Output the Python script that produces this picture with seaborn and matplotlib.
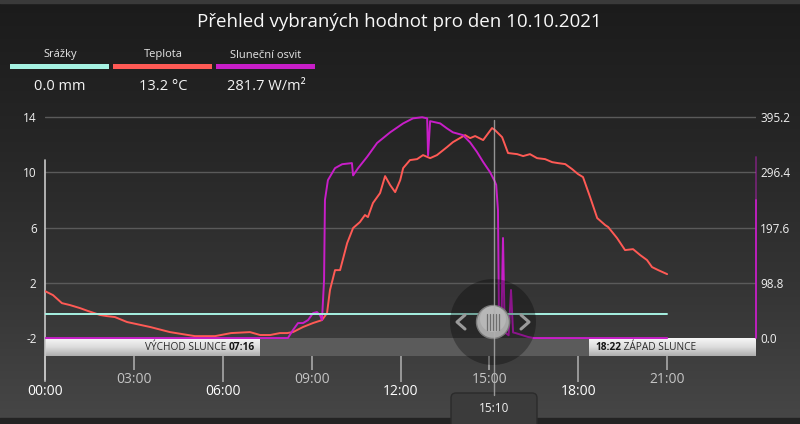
import numpy as np
import pandas as pd
import matplotlib
matplotlib.use("Agg")
import matplotlib.pyplot as plt
import seaborn as sns
from matplotlib.patches import Circle, FancyBboxPatch
from matplotlib.ticker import FixedLocator, FuncFormatter

sns.set_theme(style="dark")
plt.rcParams['font.family'] = ['Open Sans', 'DejaVu Sans']

# --- data (hours of the day) ---
teplota_h = [0.00, 0.27, 0.57, 0.84, 1.18, 1.45, 1.86, 2.09, 2.36, 2.77, 3.55, 4.22, 5.06, 5.74,
             6.28, 6.92, 7.26, 7.60, 7.93, 8.17, 8.37, 8.71, 9.05, 9.35, 9.52, 9.62, 9.79, 9.96,
             10.20, 10.40, 10.63, 10.80, 10.90, 11.07, 11.31, 11.48, 11.65, 11.82, 11.99, 12.09,
             12.32, 12.56, 12.76, 13.00, 13.23, 13.57, 13.77, 14.18, 14.35, 14.52, 14.79, 15.09,
             15.19, 15.43, 15.63, 15.94, 16.14, 16.37, 16.61, 16.88, 17.12, 17.32, 17.56, 17.79,
             17.99, 18.16, 18.40, 18.64, 18.91, 19.01, 19.31, 19.58, 19.85, 20.09, 20.32, 20.49,
             20.70, 21.00]
teplota = [1.40, 1.11, 0.53, 0.39, 0.17, -0.04, -0.33, -0.41, -0.48, -0.84, -1.20, -1.57, -1.86, -1.86,
           -1.64, -1.57, -1.78, -1.78, -1.64, -1.64, -1.57, -1.20, -0.91, -0.70, -0.19, 1.48, 2.92, 2.92,
           4.88, 5.97, 6.40, 6.91, 6.76, 7.78, 8.50, 9.73, 9.08, 8.57, 9.44, 10.31,
           10.89, 10.96, 11.25, 11.03, 11.25, 11.83, 12.19, 12.70, 12.48, 12.63, 12.34, 13.21,
           13.06, 12.55, 11.40, 11.32, 11.18, 11.32, 11.03, 10.96, 10.74, 10.67, 10.60, 10.24,
           9.88, 9.66, 8.21, 6.69, 6.18, 6.04, 5.24, 4.37, 4.44, 4.01, 3.65, 3.14,
           2.92, 2.63]

osvit_h = [0.00, 8.20, 8.37, 8.54, 8.71, 8.88, 9.05, 9.18, 9.28, 9.35, 9.39, 9.42, 9.45, 9.55,
           9.79, 10.03, 10.36, 10.40, 10.57, 10.87, 11.21, 11.65, 12.09, 12.42, 12.73, 12.90,
           12.93, 13.00, 13.34, 13.57, 13.77, 14.11, 14.35, 14.58, 14.79, 15.02, 15.17, 15.23,
           15.29, 15.33, 15.40, 15.46, 15.52, 15.65, 15.73, 15.80, 15.88, 16.30, 16.50, 21.00]
osvit = [0.0, 0.0, 14.3, 26.8, 26.8, 32.2, 44.7, 46.5, 41.1, 32.2, 73.0, 104.0, 247.0, 282.5,
         304.0, 311.0, 313.0, 291.0, 304.0, 324.0, 349.0, 368.0, 384.0, 393.0, 395.0, 393.0,
         327.0, 388.0, 384.0, 375.0, 368.0, 363.0, 350.0, 333.0, 315.0, 297.0, 281.7, 274.0,
         229.0, 5.0, 5.0, 179.0, 10.0, 5.0, 86.0, 10.0, 9.0, 2.0, 0.0, 0.0]

srazky_h = [0.0, 21.0]
srazky = [0.0, 0.0]

nadpis = "Přehled vybraných hodnot pro den 10.10.2021"
legenda_nazvy = ["Srážky", "Teplota", "Sluneční osvit"]
legenda_hodnoty = ["0.0 mm", "13.2 °C", "281.7 W/m²"]
barvy = ["#a6f2e2", "#ff5a55", "#c81ec8"]

levo_ticks = [-2, 2, 6, 10, 14]
pravo_ticks = [0.0, 98.8, 197.6, 296.4, 395.2]
hlavni_hodiny = [0, 6, 12, 18]
vedlejsi_hodiny = [3, 9, 15, 21]

vychod = 7 + 16 / 60
zapad = 18 + 22 / 60
kurzor = 15 + 10 / 60

df_t = pd.DataFrame({'h': teplota_h, 'v': teplota})
df_s = pd.DataFrame({'h': osvit_h, 'v': osvit})
df_r = pd.DataFrame({'h': srazky_h, 'v': srazky})

W, H = 800, 424
fig = plt.figure(figsize=(W / 100, H / 100), dpi=100)

# background gradient
bg = fig.add_axes([0, 0, 1, 1], zorder=0)
grad = np.linspace(0, 1, 256)[:, None]
cmap = matplotlib.colors.LinearSegmentedColormap.from_list(
    'bg', ['#1b1b1b', '#262626', '#343434', '#474747'])
bg.imshow(grad, aspect='auto', cmap=cmap, extent=[0, W, H, 0])
bg.fill_between([0, W], 0, 3, color='#3a3a3a')
bg.fill_between([0, W], 418, H, color='#232323')
bg.set_xlim(0, W)
bg.set_ylim(H, 0)
bg.axis('off')

# main axes (temperature)
ax = fig.add_axes([45 / W, (H - 356) / H, (756 - 45) / W, 243 / H], zorder=2)
ax.patch.set_visible(False)
ylo, yhi = -3.30, 14.30
ax.set_xlim(0, 24)
ax.set_ylim(ylo, yhi)

ax2 = ax.twinx()
ax2.set_ylim((ylo + 2) * 24.7, (yhi + 2) * 24.7)
ax3 = ax.twinx()
ax3.set_ylim(-1.0445, 5)
for a in (ax, ax2, ax3):
    a.patch.set_visible(False)
    for s in a.spines.values():
        s.set_visible(False)
ax3.set_yticks([])

# grid lines
for v in levo_ticks[1:]:
    ax.axhline(v, color='#5a5a5a', lw=1, zorder=1)

# sunrise / sunset bar
bar = np.linspace(0, 1, 64)[:, None]
wcmap = matplotlib.colors.LinearSegmentedColormap.from_list('w', ['#f7f7f7', '#dcdcdc', '#adadad'])
ax.imshow(bar, aspect='auto', cmap=wcmap, extent=[0, vychod, ylo, -2], zorder=3)
ax.imshow(bar, aspect='auto', cmap=wcmap, extent=[zapad, 24, ylo, -2], zorder=3)
ax.fill_between([vychod, zapad], ylo, -2, color='#5b5b5b', lw=0, zorder=3)
ax.set_xlim(0, 24)
ax.set_ylim(ylo, yhi)

ybar = (ylo - 2) / 2
t1 = ax.text(vychod - 0.17, ybar, "07:16", ha='right', va='center', fontsize=7.3,
             fontweight='bold', color='#151515', zorder=4)
ax.annotate("VÝCHOD SLUNCE ", xy=(0, 0.5), xycoords=t1, ha='right', va='center',
            fontsize=7.3, color='#2a2a2a', zorder=4)
t2 = ax.text(zapad + 0.2, ybar, "18:22", ha='left', va='center', fontsize=7.3,
             fontweight='bold', color='#151515', zorder=4)
ax.annotate(" ZÁPAD SLUNCE", xy=(1, 0.5), xycoords=t2, ha='left', va='center',
            fontsize=7.3, color='#2a2a2a', zorder=4)

# axis lines
ax.plot([0, 0], [-5.04, 10.9], color='#c8c8c8', lw=1.2, clip_on=False, zorder=5)
ax.plot([24, 24], [-2, 8.0], color=barvy[2], lw=1.3, clip_on=False, zorder=5)
ax.plot([24, 24], [8.0, 11.1], color=barvy[2], lw=1.3, alpha=0.45, clip_on=False, zorder=5)

# series
sns.lineplot(data=df_r, x='h', y='v', ax=ax3, color=barvy[0], lw=1.4, zorder=6)
sns.lineplot(data=df_t, x='h', y='v', ax=ax, color=barvy[1], lw=1.4, zorder=6)
sns.lineplot(data=df_s, x='h', y='v', ax=ax2, color=barvy[2], lw=1.4, zorder=6)
for a in (ax, ax2, ax3):
    a.set_xlabel('')
    a.set_ylabel('')
ax.set_xlim(0, 24)
ax.set_ylim(ylo, yhi)
ax2.set_ylim((ylo + 2) * 24.7, (yhi + 2) * 24.7)
ax3.set_ylim(-1.0445, 5)

# ticks
ax.set_yticks(levo_ticks)
ax.set_yticklabels([str(v) for v in levo_ticks])
ax.tick_params(axis='y', length=0, pad=6, labelsize=8.5, labelcolor='#f0f0f0')
ax2.set_yticks(pravo_ticks)
ax2.set_yticklabels([f"{v:.1f}" for v in pravo_ticks])
ax2.tick_params(axis='y', length=0, pad=3, labelsize=8.5, labelcolor='#f0f0f0')

hfmt = FuncFormatter(lambda x, p: f"{int(round(x)):02d}:00")
ax.xaxis.set_major_locator(FixedLocator(hlavni_hodiny))
ax.xaxis.set_minor_locator(FixedLocator(vedlejsi_hodiny))
ax.xaxis.set_major_formatter(hfmt)
ax.xaxis.set_minor_formatter(hfmt)
ax.tick_params(axis='x', which='major', bottom=True, length=19, width=1.2, color='#a8a8a8',
               pad=1.5, labelsize=10, labelcolor='#ffffff')
ax.tick_params(axis='x', which='minor', bottom=True, length=10, width=1.2, color='#a8a8a8',
               pad=1.5, labelsize=10, labelcolor='#c4c4c4')
ax2.tick_params(axis='x', which='both', bottom=False, labelbottom=False)
ax3.tick_params(axis='x', which='both', bottom=False, labelbottom=False)
ax.grid(False)
ax2.grid(False)
ax3.grid(False)

# overlay: header, cursor and slider widget
ov = fig.add_axes([0, 0, 1, 1], zorder=10)
ov.set_xlim(0, W)
ov.set_ylim(H, 0)
ov.axis('off')
ov.patch.set_visible(False)

ov.text(399, 22, nadpis, ha='center', va='center', fontsize=13.5, color='#f8f8f8')
for i, (n, v, c) in enumerate(zip(legenda_nazvy, legenda_hodnoty, barvy)):
    x0 = 10 + i * 103
    ov.text(x0 + 50, 55, n, ha='center', va='center', fontsize=8, color='#e6e6e6')
    ov.fill_between([x0, x0 + 99], 64, 69, color=c, lw=0)
    ov.text(x0 + 50, 86, v, ha='center', va='center', fontsize=10.5, color='#f4f4f4')

cx = 45 + kurzor / 24 * 711
ov.plot([cx, cx], [120, 395], color='#b0b0b0', lw=1, alpha=0.8)
ov.add_patch(Circle((493, 322), 43, color='#000000', alpha=0.3, lw=0))
ov.add_patch(Circle((493, 322), 16.5, facecolor='#a9a9a9', edgecolor='#7a7a7a', lw=1))
ov.add_patch(Circle((493, 319), 13, facecolor='#bdbdbd', edgecolor='none', alpha=0.7))
for dx in (-6, -3, 0, 3, 6):
    ov.plot([493 + dx, 493 + dx], [314, 330], color='#6e6e6e', lw=0.9)
ov.plot([465, 457, 465], [315, 322, 329], color='#9a9a9a', lw=2.2, solid_capstyle='round')
ov.plot([521, 529, 521], [315, 322, 329], color='#9a9a9a', lw=2.2, solid_capstyle='round')

ov.add_patch(FancyBboxPatch((451, 393), 86, 40, boxstyle="round,pad=0,rounding_size=5",
                            facecolor='#3b3b3b', edgecolor='#2b2b2b', lw=1))
ov.text(494, 408, "15:10", ha='center', va='center', fontsize=8.5, color='#f0f0f0')

fig.savefig('out.png', dpi=100)
